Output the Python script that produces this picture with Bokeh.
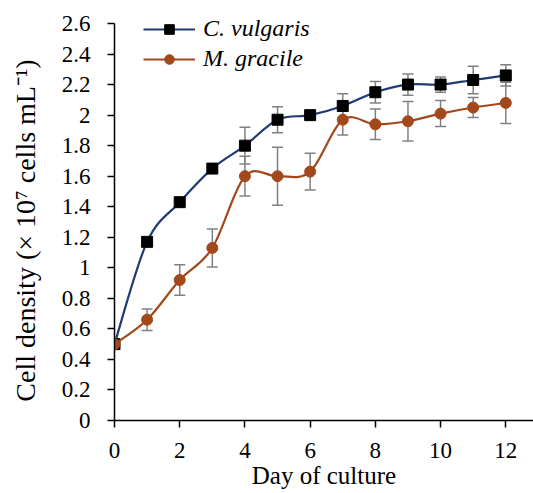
import numpy as np
from bokeh.plotting import figure
from bokeh.models import (FixedTicker, CustomJSTickFormatter, Legend, LegendItem,
                          Whisker, TeeHead, ColumnDataSource, Range1d)
from bokeh.embed import file_html
from bokeh.resources import INLINE

days = [0, 1, 2, 3, 4, 5, 6, 7, 8, 9, 10, 11, 12]
cv_mean = [0.50, 1.17, 1.43, 1.65, 1.80, 1.97, 2.00, 2.06, 2.15, 2.20, 2.20, 2.23, 2.26]
cv_err = [0.00, 0.00, 0.01, 0.03, 0.12, 0.085, 0.02, 0.08, 0.07, 0.07, 0.05, 0.09, 0.07]
mg_mean = [0.50, 0.66, 0.92, 1.13, 1.60, 1.60, 1.63, 1.97, 1.94, 1.96, 2.01, 2.05, 2.08]
mg_err = [0.00, 0.07, 0.10, 0.125, 0.13, 0.19, 0.12, 0.10, 0.10, 0.13, 0.085, 0.065, 0.135]
series_names = ["C. vulgaris", "M. gracile"]
x_ticks = [0, 2, 4, 6, 8, 10, 12]
y_ticks = [0, 0.2, 0.4, 0.6, 0.8, 1.0, 1.2, 1.4, 1.6, 1.8, 2.0, 2.2, 2.4, 2.6]

BLUE = "#203a72"
ORANGE = "#a3481a"
GRAY = "#808080"
FONT = "Liberation Serif"

p = figure(width=533, height=493, output_backend="svg", toolbar_location=None,
           x_range=Range1d(0, 12.85), y_range=Range1d(0, 2.718),
           min_border_left=114, min_border_right=0, min_border_top=5,
           min_border_bottom=73)
p.outline_line_color = None
p.grid.visible = False


def smooth(xs, ys):
    x = np.array(xs, float)
    y = np.array(ys, float)
    n = len(x)
    x0, y0, x1, y1, cx0, cy0, cx1, cy1 = ([] for _ in range(8))
    for i in range(n - 1):
        im = max(i - 1, 0)
        ip = min(i + 2, n - 1)
        x0.append(x[i]); y0.append(y[i])
        x1.append(x[i + 1]); y1.append(y[i + 1])
        cx0.append(x[i] + (x[i + 1] - x[im]) / 6)
        cy0.append(y[i] + (y[i + 1] - y[im]) / 6)
        cx1.append(x[i + 1] - (x[ip] - x[i]) / 6)
        cy1.append(y[i + 1] - (y[ip] - y[i]) / 6)
    return dict(x0=x0, y0=y0, x1=x1, y1=y1, cx0=cx0, cy0=cy0, cx1=cx1, cy1=cy1)


specs = [
    (series_names[0], cv_mean, cv_err, BLUE, "square", "black"),
    (series_names[1], mg_mean, mg_err, ORANGE, "circle", ORANGE),
]

for name, mean, err, color, marker, mcolor in specs:
    src = ColumnDataSource(dict(x=days, y=mean,
                                lo=[m - e for m, e in zip(mean, err)],
                                hi=[m + e for m, e in zip(mean, err)]))
    w = Whisker(source=src, base="x", upper="hi", lower="lo", level="underlay",
                line_color=GRAY, line_width=1.5,
                upper_head=TeeHead(size=11, line_color=GRAY, line_width=1.5),
                lower_head=TeeHead(size=11, line_color=GRAY, line_width=1.5))
    p.add_layout(w)

items = []
for name, mean, err, color, marker, mcolor in specs:
    b = smooth(days, mean)
    p.bezier(source=ColumnDataSource(b), x0="x0", y0="y0", x1="x1", y1="y1",
             cx0="cx0", cy0="cy0", cx1="cx1", cy1="cy1",
             line_color=color, line_width=2.2)
    lr = p.line(x=[np.nan], y=[np.nan], line_color=color, line_width=2.2)
    sr = p.scatter(days, mean, marker=marker, size=11,
                   fill_color=mcolor, line_color=mcolor)
    items.append(LegendItem(label=name, renderers=[lr, sr]))

legend = Legend(items=items, location=(29, 348), glyph_width=52, glyph_height=24,
                label_height=24, label_standoff=8, spacing=3, padding=0, margin=0,
                border_line_color=None, background_fill_alpha=0,
                label_text_font=FONT, label_text_font_style="italic",
                label_text_font_size="24px", label_text_color="black")
p.add_layout(legend)

p.xaxis.ticker = FixedTicker(ticks=x_ticks)
p.yaxis.ticker = FixedTicker(ticks=y_ticks)
p.yaxis.bounds = (0, 2.6)
p.yaxis.formatter = CustomJSTickFormatter(code="return (Math.round(tick*10)/10).toString();")
for ax in (p.xaxis, p.yaxis):
    ax.axis_line_color = "black"
    ax.axis_line_width = 1.5
    ax.major_tick_line_color = "black"
    ax.major_tick_line_width = 1.5
    ax.major_tick_out = 7
    ax.major_tick_in = 0
    ax.minor_tick_line_color = None
    ax.major_label_text_font = FONT
    ax.major_label_text_font_size = "23px"
    ax.major_label_text_color = "black"
    ax.axis_label_text_font = FONT
    ax.axis_label_text_font_style = "normal"
    ax.axis_label_text_color = "black"
p.xaxis.axis_label_text_font_size = "25px"
p.yaxis.axis_label_text_font_size = "28px"

p.xaxis.axis_label = "Day of culture"
p.yaxis.axis_label = "Cell density (\u00d7 10\u2077 cells mL\u207b\u00b9)     "
p.xaxis.major_label_standoff = 15
p.xaxis.axis_label_standoff = 1
p.yaxis.major_label_standoff = 17
p.yaxis.axis_label_standoff = 18

open("out.html", "w").write(file_html(p, INLINE))
